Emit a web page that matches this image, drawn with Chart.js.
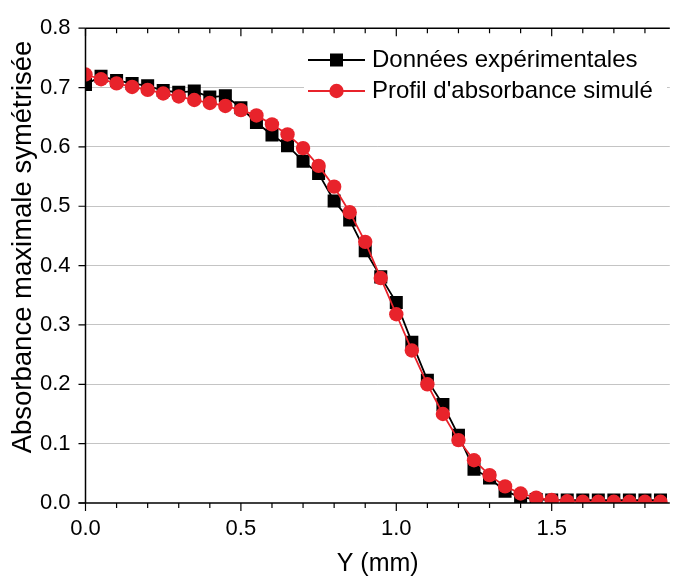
<!DOCTYPE html>
<html>
<head>
<meta charset="utf-8">
<script src="https://cdn.jsdelivr.net/npm/chart.js@4.4.1/dist/chart.umd.min.js"></script>
<style>
  html, body { margin: 0; padding: 0; background: #fff; }
  #wrap { width: 679px; height: 580px; }
</style>
</head>
<body>
<div id="wrap"><canvas id="chart" width="679" height="580"></canvas></div>
<script>
// positions le long de Y (mm)
const positions = [0, 0.05, 0.1, 0.15, 0.2, 0.25, 0.3, 0.35, 0.4, 0.45,
    0.5, 0.55, 0.6, 0.65, 0.7, 0.75, 0.8, 0.85, 0.9, 0.95,
    1.0, 1.05, 1.1, 1.15, 1.2, 1.25, 1.3, 1.35, 1.4, 1.45,
    1.5, 1.55, 1.6, 1.65, 1.7, 1.75, 1.8, 1.85];

const experimental = [0.705, 0.719, 0.712, 0.707, 0.703, 0.695, 0.692, 0.694, 0.684, 0.686,
    0.666, 0.641, 0.620, 0.602, 0.576, 0.555, 0.509, 0.477, 0.425, 0.381,
    0.338, 0.271, 0.207, 0.166, 0.114, 0.057, 0.042, 0.020, 0.010, 0.006,
    0.005, 0.005, 0.005, 0.005, 0.005, 0.005, 0.005, 0.005];

const simulated = [0.722, 0.714, 0.707, 0.701, 0.696, 0.690, 0.685, 0.679, 0.674, 0.669,
    0.662, 0.653, 0.638, 0.621, 0.598, 0.568, 0.533, 0.490, 0.440, 0.379,
    0.318, 0.257, 0.200, 0.150, 0.106, 0.072, 0.047, 0.028, 0.016, 0.009,
    0.005, 0.003, 0.002, 0.002, 0.002, 0.002, 0.002, 0.002];

const seriesLabels = ["Données expérimentales", "Profil d'absorbance simulé"];
const xTitle = "Y (mm)";
const yTitle = "Absorbance maximale symétrisée";

const xTicks = [0, 0.1, 0.2, 0.3, 0.4, 0.5, 0.6, 0.7, 0.8, 0.9,
    1.0, 1.1, 1.2, 1.3, 1.4, 1.5, 1.6, 1.7, 1.8];
const xMajor = [0, 0.5, 1.0, 1.5];
const yTicks = [0, 0.1, 0.2, 0.3, 0.4, 0.5, 0.6, 0.7, 0.8];

const FONT = "'Liberation Sans', Arial, sans-serif";
const RED = "#e8232b";

const isMajorX = (v) => xMajor.some(m => Math.abs(m - v) < 1e-6);

// cadre façon Origin : axes gauche/bas/haut avec graduations
const framePlugin = {
    id: "frame",
    afterDatasetsDraw(chart) {
        const { ctx, chartArea: a, scales } = chart;
        const xs = scales.x, ys = scales.y;
        ctx.save();
        ctx.strokeStyle = "#000";
        ctx.lineWidth = 1.5;
        ctx.beginPath();
        ctx.moveTo(a.left, a.top);
        ctx.lineTo(a.left, a.bottom);
        ctx.moveTo(a.left - 7, a.bottom);
        ctx.lineTo(a.right, a.bottom);
        ctx.moveTo(a.left, a.top);
        ctx.lineTo(a.right, a.top);
        ctx.stroke();

        ctx.lineWidth = 1.2;
        ctx.beginPath();
        yTicks.forEach(v => {
            const y = ys.getPixelForValue(v);
            ctx.moveTo(a.left - 7, y);
            ctx.lineTo(a.left, y);
        });
        xTicks.forEach(v => {
            const x = xs.getPixelForValue(v);
            const len = isMajorX(v) ? 8 : 5;
            ctx.moveTo(x, a.bottom);
            ctx.lineTo(x, a.bottom + len);
            ctx.moveTo(x, a.top);
            ctx.lineTo(x, a.top + len);
        });
        ctx.stroke();
        ctx.restore();
    },
    afterDraw(chart) {
        const { ctx } = chart;
        ctx.save();
        // titre de l'axe Y
        ctx.translate(23, 247);
        ctx.rotate(-Math.PI / 2);
        ctx.fillStyle = "#000";
        ctx.font = "27.5px " + FONT;
        ctx.textAlign = "center";
        ctx.textBaseline = "middle";
        ctx.fillText(yTitle, 0, 0);
        ctx.restore();
    }
};

// légende dans le graphe, en haut à droite
const legendPlugin = {
    id: "insideLegend",
    afterDraw(chart) {
        const { ctx } = chart;
        const rows = [60, 91];
        ctx.save();
        ctx.fillStyle = "#fff";
        ctx.fillRect(304, 42, 363, 66);
        chart.data.datasets.forEach((ds, i) => {
            const y = rows[i];
            ctx.strokeStyle = ds.borderColor;
            ctx.lineWidth = ds.borderWidth;
            ctx.beginPath();
            ctx.moveTo(308, y);
            ctx.lineTo(365, y);
            ctx.stroke();
            ctx.fillStyle = ds.backgroundColor;
            Chart.helpers.drawPoint(ctx, {
                pointStyle: ds.pointStyle,
                radius: ds.pointRadius,
                borderWidth: 0
            }, 336.5, y);
            ctx.fillStyle = "#000";
            ctx.font = "24px " + FONT;
            ctx.textAlign = "left";
            ctx.textBaseline = "middle";
            ctx.fillText(ds.label, 372, y);
        });
        ctx.restore();
    }
};

const toPoints = (ys) => positions.map((x, i) => ({ x: x, y: ys[i] }));

const ctx = document.getElementById("chart").getContext("2d");
const chart = new Chart(ctx, {
    type: "line",
    data: {
        datasets: [
            {
                label: seriesLabels[0],
                data: toPoints(experimental),
                borderColor: "#000",
                backgroundColor: "#000",
                borderWidth: 1.8,
                pointStyle: "rect",
                pointRadius: 9.2,
                pointBorderWidth: 0,
                tension: 0,
                order: 1
            },
            {
                label: seriesLabels[1],
                data: toPoints(simulated),
                borderColor: RED,
                backgroundColor: RED,
                borderWidth: 1.8,
                pointStyle: "circle",
                pointRadius: 7.2,
                pointBorderWidth: 0,
                tension: 0,
                order: 0
            }
        ]
    },
    options: {
        responsive: false,
        animation: false,
        layout: { padding: { top: 22, right: 0, left: 0, bottom: 0 } },
        plugins: {
            legend: { display: false },
            tooltip: { enabled: false }
        },
        scales: {
            x: {
                type: "linear",
                min: 0,
                max: 1.88,
                afterFit(s) { s.height = 77; },
                afterBuildTicks(s) { s.ticks = xTicks.map(v => ({ value: v })); },
                grid: { display: false, drawTicks: false },
                border: { display: false },
                ticks: {
                    autoSkip: false,
                    maxRotation: 0,
                    padding: 13,
                    color: "#000",
                    font: { family: FONT, size: 22 },
                    callback: (v) => isMajorX(v) ? Number(v).toFixed(1) : ""
                },
                title: {
                    display: true,
                    text: xTitle,
                    color: "#000",
                    font: { family: FONT, size: 25 },
                    padding: { top: 0, bottom: 1 }
                }
            },
            y: {
                min: 0,
                max: 0.8,
                afterFit(s) { s.width = 85.5; },
                afterBuildTicks(s) { s.ticks = yTicks.map(v => ({ value: v })); },
                grid: {
                    drawTicks: false,
                    lineWidth: 1,
                    color: (c) => (c.tick && c.tick.value > 0.001 && c.tick.value < 0.799) ? "#c4c4c4" : "rgba(0,0,0,0)"
                },
                border: { display: false },
                ticks: {
                    padding: 15,
                    color: "#000",
                    font: { family: FONT, size: 22 },
                    callback: (v) => Number(v).toFixed(1)
                }
            }
        }
    },
    plugins: [framePlugin, legendPlugin]
});
</script>
</body>
</html>
